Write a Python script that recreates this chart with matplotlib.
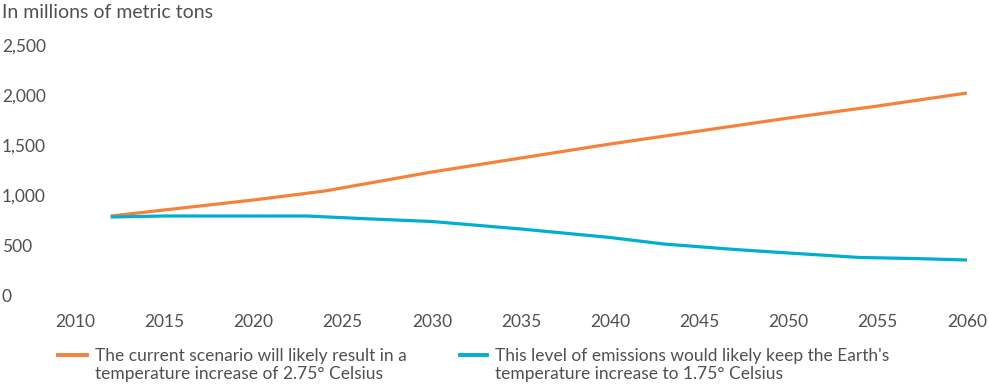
import matplotlib
matplotlib.use("Agg")
import matplotlib.pyplot as plt
from matplotlib.lines import Line2D

plt.rcParams['font.family'] = ['Lato', 'DejaVu Sans']

# data
years_cur = [2012, 2015, 2020, 2024, 2030, 2035, 2040, 2045, 2050, 2055, 2060]
current = [810, 870, 970, 1060, 1250, 1390, 1530, 1660, 1790, 1910, 2040]
years_low = [2012, 2015, 2020, 2023, 2026, 2030, 2035, 2040, 2043, 2047, 2050, 2054, 2057, 2060]
low = [800, 810, 810, 810, 785, 755, 680, 595, 530, 475, 440, 395, 385, 370]

yticks = [0, 500, 1000, 1500, 2000, 2500]
ytick_labels = ["0", "500", "1,000", "1,500", "2,000", "2,500"]
xticks = list(range(2010, 2061, 5))

title = "In millions of metric tons"
label_cur = "The current scenario will likely result in a\ntemperature increase of 2.75° Celsius"
label_low = "This level of emissions would likely keep the Earth's\ntemperature increase to 1.75° Celsius"

orange = "#F5823A"
blue = "#00AED0"
txt = "#505050"

W, H = 989, 387
fig = plt.figure(figsize=(W / 100, H / 100), dpi=100)
# axes: x 2010->75px, 2060->967px ; y 0->297px, 2500->47px
ax = fig.add_axes([75 / W, 1 - 297 / H, (967 - 75) / W, (297 - 47) / H])
ax.plot(years_cur, current, color=orange, lw=2.3, solid_capstyle='butt')
ax.plot(years_low, low, color=blue, lw=2.3, solid_capstyle='butt')
ax.set_xlim(2010, 2060)
ax.set_ylim(0, 2500)
ax.set_xticks(xticks)
ax.set_xticklabels([str(x) for x in xticks], fontsize=12.5, color=txt)
ax.tick_params(axis='x', length=0, pad=12)
ax.set_yticks([])
for s in ax.spines.values():
    s.set_visible(False)

# y labels left aligned at the figure edge
trans = matplotlib.transforms.blended_transform_factory(fig.transFigure, ax.transData)
for v, lab in zip(yticks, ytick_labels):
    ax.text(2 / W, v, lab, transform=trans, ha='left', va='center', fontsize=12.5, color=txt)

fig.text(2 / W, 1 - 12 / H, title, ha='left', va='center', fontsize=14, color=txt)

# legend
fig.add_artist(Line2D([58 / W, 87 / W], [1 - 355 / H] * 2, color=orange, lw=2.8, transform=fig.transFigure))
fig.text(95 / W, 1 - 365 / H, label_cur, ha='left', va='center', fontsize=12.5, color=txt, linespacing=1.15)
fig.add_artist(Line2D([460 / W, 487 / W], [1 - 355 / H] * 2, color=blue, lw=2.8, transform=fig.transFigure))
fig.text(495 / W, 1 - 365 / H, label_low, ha='left', va='center', fontsize=12.5, color=txt, linespacing=1.15)

fig.savefig("out.png", dpi=100, facecolor="white")
